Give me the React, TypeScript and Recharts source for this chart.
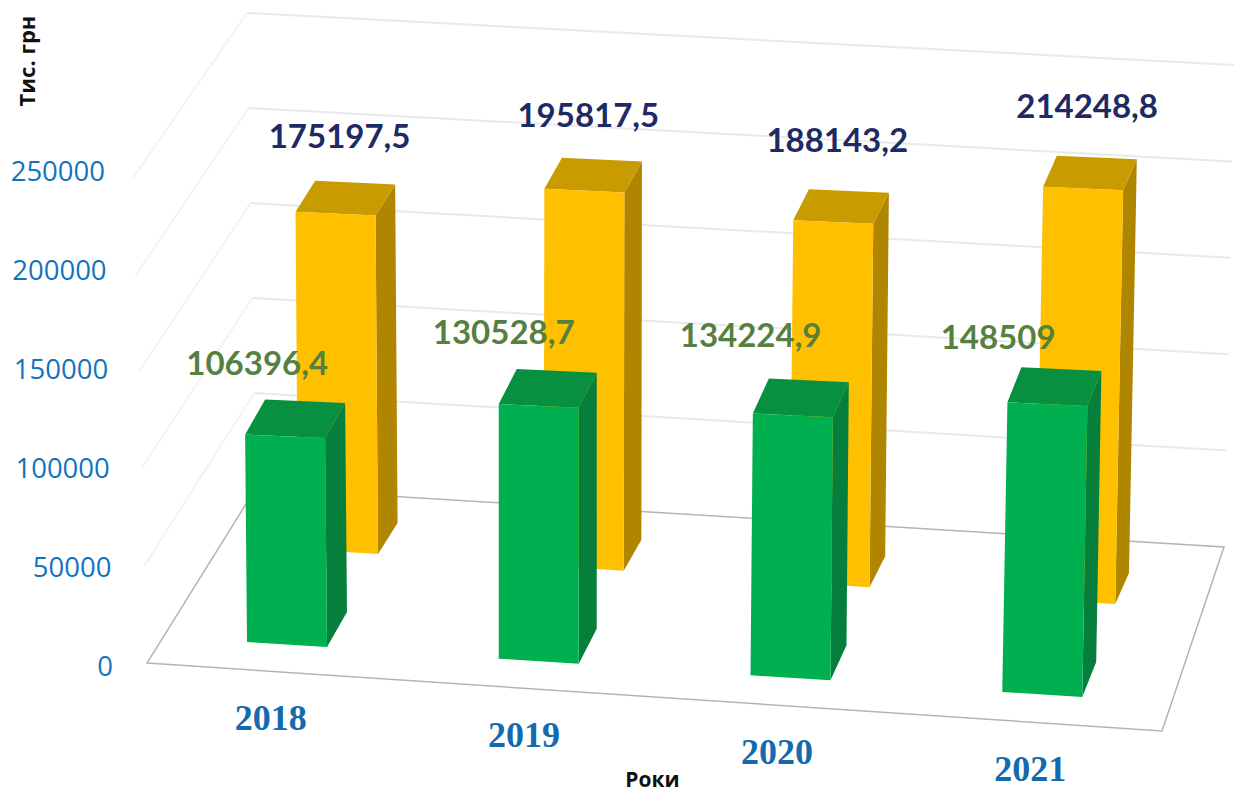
import React from 'react';
import { BarChart, Bar, XAxis, YAxis, CartesianGrid, LabelList, Label } from 'recharts';

const years = ['2018', '2019', '2020', '2021'];
const greenValues = [106396.4, 130528.7, 134224.9, 148509];
const yellowValues = [175197.5, 195817.5, 188143.2, 214248.8];
const yTicks = [0, 50000, 100000, 150000, 200000, 250000];

const rows = years.map((year, i) => ({ year, green: greenValues[i], yellow: yellowValues[i] }));

const TICK_FONT = '"Open Sans", sans-serif';
const LABEL_FONT = 'Lato, sans-serif';

const GREEN = { front: '#00B050', top: '#07903F', side: '#067F3D', depthY: -35, backShift: 0, backRise: 0, scale: 0.985, nudge: [0, -1, -8, 6] };
const YELLOW = { front: '#FFC000', top: '#C89B00', side: '#B08600', depthY: -31, backShift: 1, backRise: -93, scale: 0.972, nudge: [-1, 1, -5, -6] };

// maps a library-computed bar rectangle onto the tilted picture plane
function project(p: any, tier: any) {
  const { x, width: w, height: h } = p;
  const H = h * tier.scale;
  const left = x + tier.backShift * (51 - (x - 247) * 0.0238);
  const base = 642 + (x - 247) * 0.0662 + tier.backRise;
  const lean = H * (left + w / 2 - 540) * 3.56e-5;
  const dx = 20 - (left - 247) * 0.008;
  return {
    w,
    dx,
    dy: tier.depthY,
    bl: [left, base],
    br: [left + w, base + w * 0.0625],
    tl: [left + lean, base - H],
    tr: [left + w + lean, base - H + w * 0.045],
  };
}

const pts = (list: number[][]) => list.map((q) => q.join(',')).join(' ');

const makeShape = (tier: any) => (p: any) => {
  const g = project(p, tier);
  const shift = (q: number[]) => [q[0] + g.dx, q[1] + g.dy];
  return (
    <g>
      <polygon points={pts([g.br, shift(g.br), shift(g.tr), g.tr])} fill={tier.side} />
      <polygon points={pts([g.tl, g.tr, shift(g.tr), shift(g.tl)])} fill={tier.top} />
      <polygon points={pts([g.bl, g.br, g.tr, g.tl])} fill={tier.front} />
    </g>
  );
};

const fmt = (v: any) => String(v).replace('.', ',');

const makeLabel = (tier: any, color: string, cx: (x: number) => number, cy: number) => (p: any) => {
  const g = project(p, tier);
  return (
    <text
      x={g.tl[0] + cx(g.tl[0])}
      y={g.tl[1] + cy + (tier.nudge[p.index] || 0)}
      textAnchor="middle"
      dominantBaseline="central"
      fill={color}
      fontFamily={LABEL_FONT}
      fontWeight={700}
      fontSize={33}
    >
      {fmt(p.value)}
    </text>
  );
};

const YTick = (p: any) => {
  const y = p.y;
  const x = 105 + ((y - 170) / 495) * 8;
  return (
    <text x={x} y={y} textAnchor="end" dominantBaseline="central" fill="#1273BC" fontFamily={TICK_FONT} fontSize={27.5}>
      {p.payload.value}
    </text>
  );
};

const XTick = (p: any) => {
  const x = p.x - 16 + ((p.x - 287) / 755) * 4;
  const y = 718 + (p.x - 287) * 0.0676;
  return (
    <text x={x} y={y} textAnchor="middle" dominantBaseline="central" fill="#156AAE" fontFamily='"Liberation Serif", serif' fontWeight={700} fontSize={36}>
      {p.payload.value}
    </text>
  );
};

const GridLine = (p: any) => {
  const k = (665 - p.y1) / 495;
  const front = [147 - 14 * k, 663 - 485 * k];
  const backL = [256 - 9 * k, 488 - 475 * k];
  const backR = [1225 + 9 * k, 547 - 482 * k];
  if (k < 0.001) {
    return (
      <polygon points={pts([[147, 663], [1162, 731], [1224, 547], [256, 488]])} fill="none" stroke="#b4b4b4" strokeWidth={1.5} />
    );
  }
  return (
    <g fill="none">
      <line x1={front[0]} y1={front[1]} x2={backL[0]} y2={backL[1]} stroke="#f3f3f3" strokeWidth={2} />
      <line x1={backL[0]} y1={backL[1]} x2={backR[0]} y2={backR[1]} stroke="#e9e9e9" strokeWidth={2} />
    </g>
  );
};

export default function App() {
  return (
    <div style={{ position: 'absolute', left: 0, top: 0, width: 1234, height: 790, background: '#fff', overflow: 'hidden' }}>
      <BarChart width={1234} height={790} data={rows} margin={{ top: 170, right: 66, bottom: 0, left: 0 }} barSize={80}>
        <CartesianGrid xAxisId="front" vertical={false} horizontal={GridLine as any} />
        <XAxis xAxisId="front" dataKey="year" height={125} axisLine={false} tickLine={false} tick={XTick as any} interval={0}>
          <Label value="Роки" position="insideBottom" offset={0} dx={-12} dy={-33} fill="#111" fontFamily={TICK_FONT} fontWeight={700} fontSize={21} />
        </XAxis>
        <XAxis xAxisId="back" dataKey="year" hide />
        <YAxis domain={[0, 250000]} ticks={yTicks} width={161} axisLine={false} tickLine={false} tick={YTick as any} interval={0}>
          <Label value="Тис. грн" angle={-90} position="insideLeft" dx={22} dy={-311} fill="#111" fontFamily={TICK_FONT} fontWeight={700} fontSize={22} />
        </YAxis>
        <Bar xAxisId="back" dataKey="yellow" isAnimationActive={false} shape={makeShape(YELLOW) as any}>
          <LabelList dataKey="yellow" content={makeLabel(YELLOW, '#1E2A63', () => 44, -76) as any} />
        </Bar>
        <Bar xAxisId="front" dataKey="green" isAnimationActive={false} shape={makeShape(GREEN) as any}>
          <LabelList dataKey="green" content={makeLabel(GREEN, '#55803F', (x) => 12 - (x - 247) * 0.028, -72) as any} />
        </Bar>
      </BarChart>
    </div>
  );
}
